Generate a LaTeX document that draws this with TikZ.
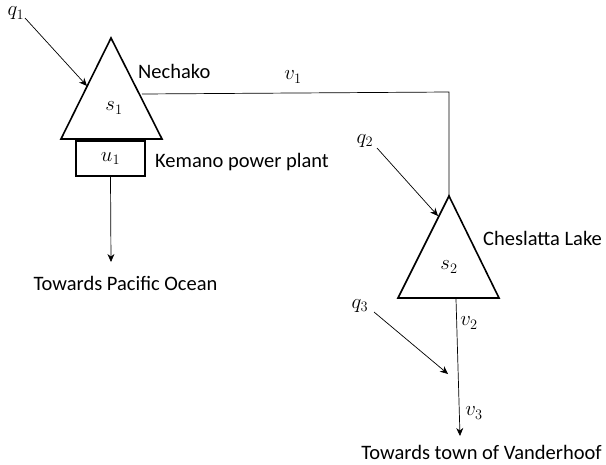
\documentclass[tikz,border=0pt]{standalone}
\usepackage{fontspec}
\setmainfont{Carlito}
\usetikzlibrary{arrows.meta}
\begin{document}
\begin{tikzpicture}[x=1pt,y=-1pt,
  tri/.style={draw,line width=1.6pt,line join=miter},
  flow/.style={draw,line width=0.7pt},
  arr/.style={draw,line width=0.7pt,-{Stealth[length=8pt,width=7pt]}},
  lbl/.style={font=\fontsize{20.5}{22}\selectfont,inner sep=0pt},
  mth/.style={font=\fontsize{20}{22}\selectfont,inner sep=0pt}]
\useasboundingbox (0,0) rectangle (606,464);
% reservoir 1
\coordinate (t1a) at (111,38);
\coordinate (t1l) at (61,139);
\coordinate (t1r) at (162,139);
\draw[tri] (t1a) -- (t1l) -- (t1r) -- cycle;
\node[mth] (s1) at (114,108) {$s_1$};
\node[draw,line width=1.3pt,minimum width=69pt,minimum height=35pt,inner sep=0pt] (u1box) at (110.5,158.5) {};
\node[mth] at (u1box.center) {$u_1$};
\node[lbl,anchor=base west] (nech) at (138,78) {Nechako};
\node[lbl,anchor=base west] (kem) at (155,167) {Kemano power plant};
\node[lbl,anchor=base] (pac) at (125.5,290) {Towards Pacific Ocean};
\coordinate (pacin) at (111,262);
\draw[arr] (u1box.south) -- (pacin);
\node[mth] (q1) at (16,13.5) {$q_1$};
\coordinate (q1s) at (25,18);
\coordinate (q1e) at (87,86);
\draw[arr] (q1s) -- (q1e);
% v1
\coordinate (v1s) at (142,94);
\coordinate (v1c) at (449,92);
\node[mth] (v1) at (293,77) {$v_1$};
% reservoir 2
\coordinate (t2a) at (449,196);
\coordinate (t2l) at (398,298);
\coordinate (t2r) at (499,298);
\draw[flow] (v1s) -- (v1c) -- (t2a);
\draw[tri] (t2a) -- (t2l) -- (t2r) -- cycle;
\node[mth] (s2) at (449,267) {$s_2$};
\node[lbl,anchor=base west] (ches) at (483,245) {Cheslatta Lake};
\node[mth] (q2) at (365,141) {$q_2$};
\coordinate (q2s) at (377,148);
\coordinate (q2e) at (438,216);
\draw[arr] (q2s) -- (q2e);
\coordinate (outs) at (456,299);
\coordinate (oute) at (460,436);
\draw[arr] (outs) -- (oute);
\node[mth] (v2) at (469,323) {$v_2$};
\node[mth] (v3) at (474,413) {$v_3$};
\node[mth] (q3) at (360,306) {$q_3$};
\coordinate (q3s) at (374,312);
\coordinate (q3e) at (448,374);
\draw[arr] (q3s) -- (q3e);
\node[lbl,anchor=base] (van) at (481.5,459) {Towards town of Vanderhoof};
\end{tikzpicture}
\end{document}
